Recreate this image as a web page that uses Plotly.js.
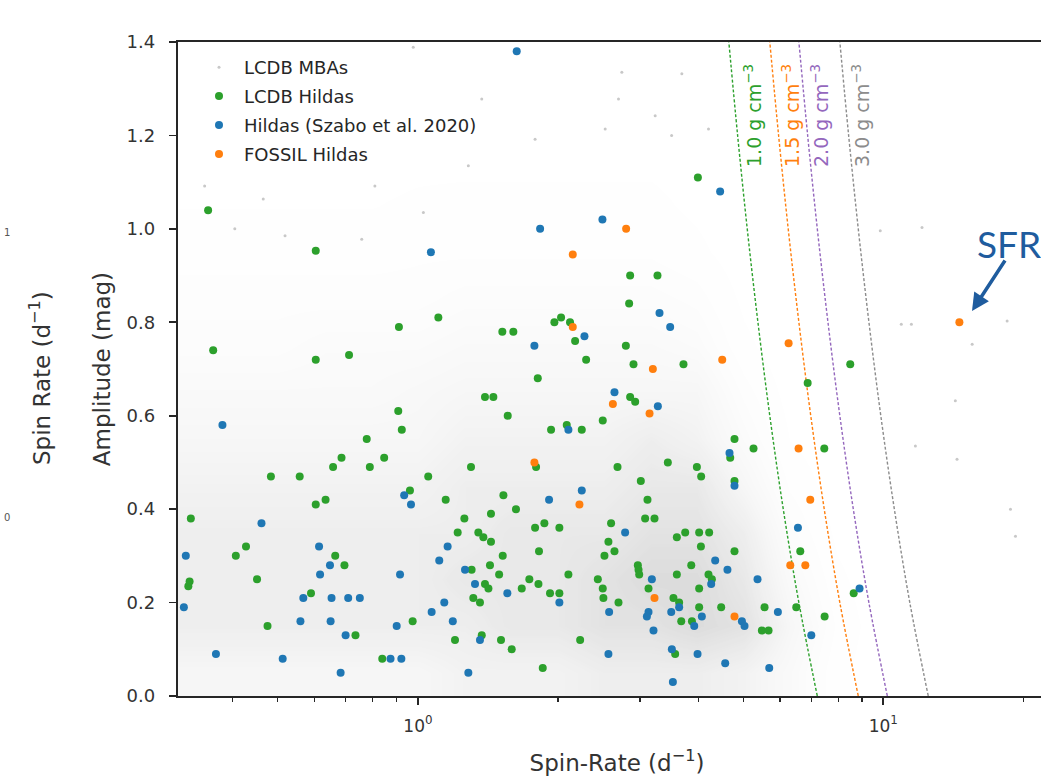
<!DOCTYPE html>
<html>
<head>
<meta charset="utf-8">
<script src="https://cdn.plot.ly/plotly-3.0.1.min.js"></script>
<style>
html,body{margin:0;padding:0;overflow:hidden;background:#fff;}
#chart{width:1060px;height:776px;}
</style>
</head>
<body>
<div id="chart"></div>
<script>
// ---------------- data ----------------
// LCDB Hildas (green): spin rate (d^-1), amplitude (mag)
const hildaRate = [0.354,0.603,1.106,0.910,0.363,0.603,0.711,
 3.995,2.857,3.271,2.843,1.518,1.603,1.964,2.030,2.122,2.176,2.797,2.298,2.905,3.720,8.49,
 0.907,0.923,0.776,0.685,0.846,0.657,0.788,0.483,0.557,1.052,1.300,0.961,0.603,0.633,1.147,0.325,1.258,1.217,
 0.406,0.427,0.664,0.695,1.304,0.321,0.323,0.451,0.589,0.974,1.201,0.475,0.734,0.838,1.315,
 1.809,1.393,1.452,2.857,2.929,1.559,2.495,1.932,2.088,2.249,4.788,5.261,4.688,1.794,3.443,2.684,3.975,4.060,
 3.012,4.788,1.526,3.113,1.624,1.435,3.077,3.223,1.869,1.785,2.013,2.600,1.348,1.382,1.435,2.566,3.600,3.752,
 4.020,4.224,4.055,1.820,2.644,2.516,4.788,1.521,1.428,3.866,2.968,2.978,2.988,1.494,2.105,3.600,4.210,4.281,
 1.393,1.417,1.735,1.815,1.671,2.435,2.495,2.503,3.129,4.020,1.922,2.013,1.359,3.540,3.641,2.697,4.020,4.483,
 5.556,3.679,3.879,5.483,5.667,1.371,1.508,1.590,2.231,3.570,1.854,
 6.877,7.467,6.630,8.636,6.500,7.479];
const hildaAmp = [1.04,0.953,0.81,0.79,0.74,0.72,0.73,
 1.11,0.90,0.90,0.84,0.78,0.78,0.80,0.81,0.80,0.76,0.75,0.72,0.71,0.71,0.71,
 0.61,0.57,0.55,0.51,0.51,0.49,0.49,0.47,0.47,0.47,0.49,0.44,0.41,0.42,0.42,0.38,0.38,0.35,
 0.30,0.32,0.30,0.28,0.27,0.235,0.245,0.25,0.22,0.16,0.12,0.15,0.13,0.08,0.21,
 0.68,0.64,0.64,0.64,0.63,0.60,0.59,0.57,0.58,0.57,0.55,0.53,0.51,0.49,0.50,0.49,0.49,0.47,
 0.46,0.46,0.43,0.42,0.40,0.39,0.38,0.38,0.37,0.36,0.36,0.37,0.35,0.34,0.33,0.33,0.34,0.35,
 0.35,0.35,0.32,0.31,0.31,0.30,0.31,0.30,0.28,0.28,0.28,0.27,0.26,0.26,0.26,0.26,0.26,0.25,
 0.24,0.23,0.25,0.24,0.23,0.25,0.23,0.21,0.23,0.23,0.22,0.22,0.20,0.21,0.20,0.20,0.19,0.19,
 0.19,0.16,0.16,0.14,0.14,0.13,0.12,0.10,0.12,0.09,0.06,
 0.67,0.53,0.31,0.22,0.19,0.17];

// Hildas (Szabo et al. 2020) (blue)
const szaboRate = [1.066,
 1.630,4.46,2.491,1.830,3.304,3.483,2.279,1.779,
 0.380,0.934,0.966,0.461,1.158,0.317,0.613,0.647,0.616,0.915,1.111,1.262,0.314,0.567,0.652,0.708,0.750,
 1.139,1.070,1.188,0.559,0.649,0.900,0.699,0.368,0.512,0.873,0.921,0.682,1.283,1.326,
 2.644,3.277,2.105,4.671,4.788,2.249,1.913,2.787,4.352,4.624,4.267,5.366,3.181,1.556,2.013,3.641,3.501,
 2.575,3.129,3.104,4.074,4.967,5.032,3.923,3.207,1.359,2.566,3.512,3.988,4.573,5.686,3.530,
 6.554,8.89,5.935,7.002];
const szaboAmp = [0.95,
 1.38,1.08,1.02,1.00,0.82,0.79,0.77,0.75,
 0.58,0.43,0.41,0.37,0.32,0.30,0.32,0.28,0.26,0.26,0.29,0.27,0.19,0.21,0.21,0.21,0.21,
 0.20,0.18,0.16,0.16,0.16,0.15,0.13,0.09,0.08,0.08,0.08,0.05,0.05,0.24,
 0.65,0.62,0.57,0.52,0.45,0.44,0.42,0.35,0.29,0.27,0.24,0.25,0.25,0.22,0.20,0.19,0.18,
 0.18,0.18,0.17,0.17,0.16,0.15,0.15,0.14,0.12,0.09,0.10,0.09,0.07,0.06,0.03,
 0.36,0.23,0.18,0.13];

// FOSSIL Hildas (orange)
const fossilRate = [2.801,2.151,2.151,3.197,4.506,6.258,14.57,2.623,3.145,1.779,2.223,3.223,4.788,6.575,6.966,6.310,6.798];
const fossilAmp  = [1.00,0.945,0.79,0.70,0.72,0.755,0.80,0.625,0.605,0.50,0.41,0.21,0.17,0.53,0.42,0.28,0.28];

// LCDB MBAs: isolated (readable) points
const mbaRate = [14.28,11.72,14.40,18.76,19.23,9.85,12.11,10.93,11.49,18.45,15.52,
 2.742,3.690,1.371,2.697,1.785,3.234,2.525,3.508,4.210,0.977,0.465,0.404,0.808,1.027,0.348,0.518,0.757,1.283];
const mbaAmp = [0.632,0.535,0.507,0.400,0.342,0.996,1.003,0.796,0.796,0.803,0.753,
 1.335,1.332,1.278,1.278,1.192,1.242,1.214,1.200,1.214,1.389,1.064,1.000,1.092,1.035,1.092,0.985,0.978,1.135];

// LCDB MBAs: dense cloud, relative point density read per cell
const mbaGridRate = [0.316,0.398,0.501,0.631,0.794,1,1.26,1.58,2,2.51,3.16,3.98,5.01,6.31,7.94,10,12.6,15.8,20];
const mbaGridAmp = [0.05,0.15,0.25,0.35,0.45,0.55,0.65,0.75,0.85,0.95,1.05,1.15,1.25,1.35];
const mbaDensity = [
 [5,5,5,5,5,5,6,6,6,7,7,7,6,4,1.5,0.5,0.2,0.1,0],
 [7,7,7,7,7,7,7,8,8,9,9,10,9,5,2,0.5,0.2,0.1,0],
 [7,7,7,7,7,7,8,8,8,9,10,10,8,4,1.5,0.4,0.2,0.1,0],
 [7,7,7,7,7,7,7,8,8,8,9,9,7,3,1,0.3,0.1,0.1,0],
 [6,6,6,6,6,6,7,7,7,7,8,8,5,2,0.7,0.3,0.1,0.1,0],
 [5,5,5,5,5,5,6,6,6,6,7,6,3.5,1.2,0.5,0.2,0.1,0,0],
 [4,4,4,4,4,4.5,5,5,5,5,5,5,2.5,0.8,0.3,0.2,0.1,0,0],
 [3,3,3,3.5,3.5,3.5,4,4,4,4,4,3.5,1.5,0.5,0.2,0.1,0.1,0,0],
 [2.5,2.5,2.5,2.5,2.5,2.5,3,3,3,3,3,2.5,1,0.3,0.1,0.1,0,0,0],
 [1.8,1.8,1.8,1.8,1.8,2,2,2,2,2,2,1.5,0.6,0.2,0.1,0,0,0,0],
 [1.2,1.2,1.2,1.2,1.2,1.4,1.5,1.5,1.5,1.5,1.5,1,0.4,0.1,0,0,0,0,0],
 [0.8,0.8,0.8,0.9,0.9,1,1,1,1,1,1,0.8,0.3,0.1,0,0,0,0,0],
 [0.6,0.6,0.6,0.6,0.6,0.7,0.7,0.7,0.7,0.7,0.7,0.5,0.2,0,0,0,0,0,0],
 [0.4,0.4,0.4,0.4,0.4,0.5,0.5,0.5,0.5,0.5,0.5,0.3,0.1,0,0,0,0,0,0]
];

// spin-barrier curves (density lines), read at these amplitudes
const barrierAmp = [0,0.2,0.4,0.6,0.8,1.0,1.2,1.4];
const barrier10 = [7.213,6.584,6.095,5.702,5.377,5.100,4.863,4.656];
const barrier15 = [8.834,8.064,7.465,6.983,6.585,6.246,5.956,5.702];
const barrier20 = [10.20,9.311,8.620,8.064,7.604,7.213,6.877,6.585];
const barrier30 = [12.49,11.40,10.56,9.876,9.313,8.834,8.423,8.065];
const barrierLabels = ['1.0 g cm<sup>−3</sup>','1.5 g cm<sup>−3</sup>','2.0 g cm<sup>−3</sup>','3.0 g cm<sup>−3</sup>'];

const seriesNames = ['LCDB MBAs','LCDB Hildas','Hildas (Szabo et al. 2020)','FOSSIL Hildas'];
const xTickVals = [1,10];
const xTickText = ['10<sup>0</sup>','10<sup>1</sup>'];
const xMinorVals = [0.4,0.5,0.6,0.7,0.8,0.9,2,3,4,5,6,7,8,9,20];

// ---------------- styling ----------------
const FONT = 'DejaVu Sans, sans-serif';
const C_GREEN = '#2ca02c', C_BLUE = '#1f77b4', C_ORANGE = '#ff7f0e', C_PURPLE = '#9467bd', C_GRAY = '#8c8c8c';
const AX = '#262626';

const traces = [];
traces.push({
  type:'heatmap', x: mbaGridRate, y: mbaGridAmp, z: mbaDensity,
  zsmooth:'best', zmin:0, zmax:10, showscale:false, hoverinfo:'skip', showlegend:false,
  colorscale:[[0,'rgba(255,255,255,0)'],[1,'rgba(220,220,220,1)']]
});
const lineDefs = [[barrier10,C_GREEN],[barrier15,C_ORANGE],[barrier20,C_PURPLE],[barrier30,C_GRAY]];
lineDefs.forEach(function(d){
  traces.push({type:'scatter', mode:'lines', x:d[0], y:barrierAmp, showlegend:false, hoverinfo:'skip',
    line:{color:d[1], width:1.4, dash:'3px,2px', shape:'spline'}});
});
traces.push({type:'scatter', mode:'markers', name:seriesNames[0], x:mbaRate, y:mbaAmp, legendgroup:'a',
  marker:{size:3, color:'#c8c8c8'}});
traces.push({type:'scatter', mode:'markers', name:seriesNames[1], x:hildaRate, y:hildaAmp, legendgroup:'b',
  marker:{size:8, color:C_GREEN}});
traces.push({type:'scatter', mode:'markers', name:seriesNames[2], x:szaboRate, y:szaboAmp, legendgroup:'c',
  marker:{size:8, color:C_BLUE}});
traces.push({type:'scatter', mode:'markers', name:seriesNames[3], x:fossilRate, y:fossilAmp, legendgroup:'d',
  marker:{size:8, color:C_ORANGE}});

// geometry helpers (plot area 178..1056 px, 42..696 px)
const PL = 178, PW = 878, PT = 42, PH = 654;
function px2paperX(px){ return (px - PL) / PW; }
function px2paperY(py){ return (PT + PH - py) / PH; }

const labelPx = [753, 791, 820, 861];
const labelCol = [C_GREEN, C_ORANGE, C_PURPLE, C_GRAY];
const annotations = [];
barrierLabels.forEach(function(t,i){
  annotations.push({xref:'paper', yref:'paper', x:px2paperX(labelPx[i]), y:px2paperY(116),
    text:t, textangle:-90, showarrow:false, font:{family:FONT, size:19, color:labelCol[i]},
    xanchor:'center', yanchor:'middle'});
});
annotations.push({xref:'paper', yref:'paper', x:px2paperX(975), y:px2paperY(243), text:'SFR',
  showarrow:false, xanchor:'left', yanchor:'middle', font:{family:'Lato, sans-serif', size:37, color:'#1f5c9e'}});
annotations.push({xref:'paper', yref:'paper', x:px2paperX(972), y:px2paperY(311), text:'',
  showarrow:true, arrowhead:2, arrowsize:1, arrowwidth:3.5, arrowcolor:'#1f5c9e', ax:34, ay:-52});
// neighbouring (cropped) panel
annotations.push({xref:'paper', yref:'paper', x:px2paperX(40), y:px2paperY(378), text:'Spin Rate (d<sup>−1</sup>)',
  textangle:-90, showarrow:false, font:{family:FONT, size:23, color:'#333'}, xanchor:'center', yanchor:'middle'});
annotations.push({xref:'paper', yref:'paper', x:px2paperX(2), y:px2paperY(232), text:'1',
  showarrow:false, xanchor:'left', yanchor:'middle', font:{family:FONT, size:10, color:'#555'}});
annotations.push({xref:'paper', yref:'paper', x:px2paperX(2), y:px2paperY(517), text:'0',
  showarrow:false, xanchor:'left', yanchor:'middle', font:{family:FONT, size:10, color:'#555'}});

const layout = {
  width:1060, height:776,
  margin:{l:PL, r:1060-PL-PW, t:PT, b:776-PT-PH, pad:0},
  paper_bgcolor:'#fff', plot_bgcolor:'#fff',
  font:{family:FONT, color:'#333'},
  showlegend:true,
  legend:{x:px2paperX(194), y:px2paperY(49), xanchor:'left', yanchor:'top', bgcolor:'rgba(255,255,255,0)',
    font:{family:FONT, size:18, color:'#262626'}, traceorder:'grouped', tracegroupgap:2.5, itemsizing:'trace',
    itemwidth:40},
  xaxis:{type:'log', range:[Math.log10(0.305), Math.log10(23.5)], autorange:false,
    showline:true, mirror:true, linecolor:AX, linewidth:2.2, showgrid:false, zeroline:false,
    tickmode:'array', tickvals:xTickVals, ticktext:xTickText, ticks:'outside', ticklen:7, tickwidth:1.8, tickcolor:AX,
    tickfont:{family:FONT, size:17, color:'#333'}, ticklabelstandoff:6,
    minor:{tickmode:'array', tickvals:xMinorVals, ticks:'outside', ticklen:4, tickwidth:1.2, tickcolor:AX, showgrid:false},
    title:{text:'Spin-Rate (d<sup>−1</sup>)', font:{family:FONT, size:23, color:'#333'}, standoff:20}},
  yaxis:{range:[0,1.4], autorange:false, showline:true, mirror:true, linecolor:AX, linewidth:2.2,
    showgrid:false, zeroline:false, dtick:0.2, tick0:0, tickformat:'.1f', ticks:'outside', ticklen:7, tickwidth:1.8, tickcolor:AX,
    tickfont:{family:FONT, size:18, color:'#333'}, ticklabelstandoff:10,
    title:{text:'Amplitude (mag)', font:{family:FONT, size:23, color:'#333'}, standoff:10}},
  annotations:annotations
};

Plotly.newPlot('chart', traces, layout, {displayModeBar:false, staticPlot:true});
</script>
</body>
</html>
